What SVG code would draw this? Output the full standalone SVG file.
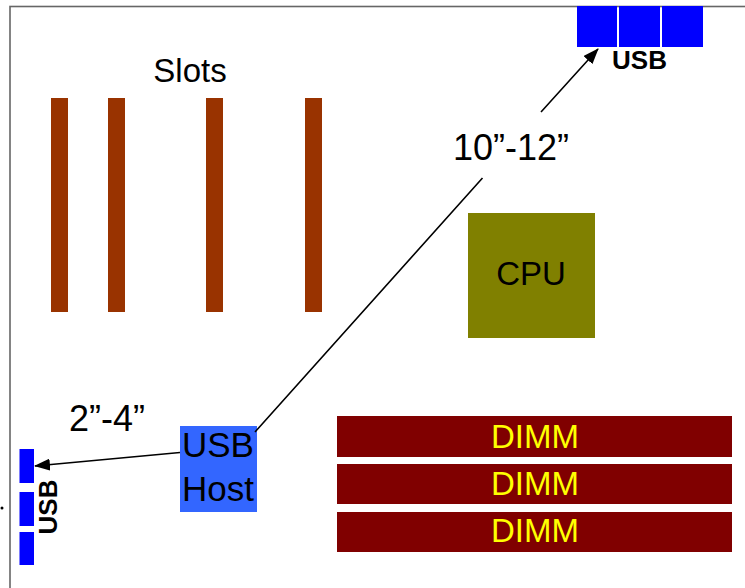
<svg xmlns="http://www.w3.org/2000/svg" width="745" height="588" viewBox="0 0 745 588">
<style>
text{font-family:"Liberation Sans",Arial,Helvetica,sans-serif;fill:#000}
.slot{fill:#993300}
.dimm{fill:#800000}
.usb{fill:#0000FF}
.lbl{font-size:33px}
.dl{font-size:36px}
.ub{font-size:26px;font-weight:bold}
.dt{font-size:33px;fill:#FFFF00;text-anchor:middle}
.conn{stroke:#000;stroke-width:1.6;fill:none}
</style>
<defs>
<marker id="ah" markerUnits="userSpaceOnUse" viewBox="0 0 16 12" refX="15" refY="6" markerWidth="16" markerHeight="12" orient="auto">
<path d="M0,0 L16,6 L0,12 z" fill="#000"/>
</marker>
</defs>
<rect width="745" height="588" fill="#fff"/>
<rect id="board" x="10" y="6.5" width="800" height="700" fill="none" stroke="#666" stroke-width="1.6"/>
<circle cx="2" cy="508" r="1.5" fill="#000"/>
<g id="slots">
<rect class="slot" x="51" y="98" width="17" height="214"/>
<rect class="slot" x="108" y="98" width="17" height="214"/>
<rect class="slot" x="206" y="98" width="17" height="214"/>
<rect class="slot" x="305" y="98" width="17" height="214"/>
<text class="lbl" x="190" y="82" text-anchor="middle">Slots</text>
</g>
<g id="usb-top">
<rect class="usb" x="577" y="6" width="40" height="41"/>
<rect class="usb" x="619" y="6" width="41" height="41"/>
<rect class="usb" x="662" y="6" width="41" height="41"/>
<text class="ub" x="639.5" y="69" text-anchor="middle">USB</text>
</g>
<g id="cpu">
<rect x="468" y="213" width="127" height="125" fill="#808000"/>
<text class="lbl" x="531" y="285" text-anchor="middle">CPU</text>
</g>
<g id="dimms">
<rect class="dimm" x="337" y="416" width="395" height="41"/>
<text class="dt" x="535" y="448">DIMM</text>
<rect class="dimm" x="337" y="464" width="395" height="40"/>
<text class="dt" x="535" y="495">DIMM</text>
<rect class="dimm" x="337" y="512" width="395" height="40"/>
<text class="dt" x="535" y="542">DIMM</text>
</g>
<g id="usb-host">
<rect x="180" y="426" width="77" height="86" fill="#3366FF"/>
<text x="182" y="457" font-size="35">USB</text>
<text x="182" y="501" font-size="35">Host</text>
</g>
<g id="usb-left">
<rect class="usb" x="19.5" y="449" width="14.5" height="34"/>
<rect class="usb" x="19.5" y="492" width="14.5" height="34"/>
<rect class="usb" x="19.5" y="532" width="14.5" height="33"/>
<text class="ub" transform="translate(57,507) rotate(-90)" text-anchor="middle">USB</text>
</g>
<g id="connectors">
<path class="conn" d="M255,432 L482.5,178 M541,112 L598,49" marker-end="url(#ah)"/>
<path class="conn" d="M180,452.5 L35,466" marker-end="url(#ah)"/>
<text class="dl" x="453" y="160">10”-12”</text>
<text class="dl" x="69" y="431">2”-4”</text>
</g>
</svg>
